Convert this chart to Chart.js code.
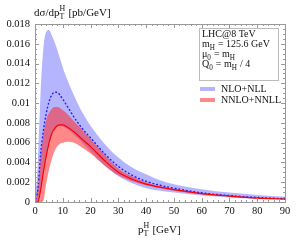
<!DOCTYPE html>
<html>
<head>
<meta charset="utf-8">
<script src="https://cdn.jsdelivr.net/npm/chart.js@4/dist/chart.umd.min.js"></script>
<style>
  html, body { margin: 0; padding: 0; background: #fff; }
  #wrap { width: 303px; height: 245px; }
</style>
</head>
<body>
<div id="wrap"><canvas id="ptChart" width="303" height="245"></canvas></div>
<script>
// pT^H spectrum, LHC 8 TeV - NLO+NLL vs NNLO+NNLL bands

const pt = [0, 1, 2, 3, 4, 5, 6, 7, 8, 9, 10, 12, 14, 16, 18, 20, 25, 30, 35, 40, 45, 50, 60, 70, 80, 90];

const nloUpper = [0, 0.004, 0.011, 0.0155, 0.0172, 0.0174, 0.0169, 0.0162, 0.0154, 0.0145, 0.0136, 0.0121, 0.0108, 0.0096, 0.0086, 0.0077, 0.0059, 0.0045, 0.0035, 0.0028, 0.0022, 0.0018, 0.0013, 0.00095, 0.0007, 0.00052];
const nloLower = [0, 0, 0.0012, 0.003, 0.0046, 0.0059, 0.0068, 0.0073, 0.0076, 0.0077, 0.0076, 0.0073, 0.0068, 0.0063, 0.0057, 0.0051, 0.0037, 0.0026, 0.0019, 0.0014, 0.00115, 0.00095, 0.00066, 0.00046, 0.00033, 0.00024];
const nloCentral = [0, 0.0012, 0.0048, 0.0072, 0.0089, 0.0101, 0.0108, 0.0111, 0.0111, 0.0108, 0.0104, 0.0095, 0.0086, 0.0078, 0.0071, 0.0065, 0.0049, 0.0036, 0.0027, 0.0021, 0.0017, 0.0014, 0.00093, 0.00065, 0.00046, 0.00033];

const nnloUpper = [0, 0.0015, 0.0045, 0.0068, 0.0083, 0.009, 0.0094, 0.0096, 0.0096, 0.0095, 0.0093, 0.0088, 0.0082, 0.0076, 0.007, 0.0064, 0.0048, 0.0034, 0.0026, 0.002, 0.0016, 0.00135, 0.00092, 0.00065, 0.00045, 0.00033];
const nnloLower = [0, 0, 0, 0.0001, 0.0018, 0.0032, 0.0043, 0.0051, 0.0056, 0.0059, 0.006, 0.0061, 0.006, 0.0057, 0.0053, 0.0049, 0.0037, 0.0027, 0.0021, 0.0017, 0.0014, 0.00115, 0.00078, 0.00055, 0.00036, 0.00027];
const nnloCentral = [0, 0, 0.0012, 0.003, 0.0046, 0.0059, 0.0069, 0.0074, 0.0077, 0.0078, 0.0078, 0.0075, 0.0071, 0.0066, 0.0061, 0.0056, 0.0042, 0.003, 0.0023, 0.0018, 0.0015, 0.00125, 0.00085, 0.0006, 0.0004, 0.0003];

const xTicks = [0, 10, 20, 30, 40, 50, 60, 70, 80, 90];
const yTicks = [0, 0.002, 0.004, 0.006, 0.008, 0.01, 0.012, 0.014, 0.016, 0.018];

const BLUE_FILL = 'rgba(120,120,255,0.55)';
const RED_FILL = 'rgba(255,40,40,0.55)';
const SERIF = '"Liberation Serif", "DejaVu Serif", serif';

function pts(ys) {
  return pt.map((x, i) => ({ x: x, y: ys[i] }));
}

// draw text made of pieces with sub/superscripts
function richText(ctx, x, y, parts, size) {
  let cx = x;
  parts.forEach(p => {
    if (p.sub || p.sup) {
      ctx.font = (size * 0.72) + 'px ' + SERIF;
      let w = 0;
      if (p.sup) { ctx.fillText(p.sup, cx, y - size * 0.42); w = ctx.measureText(p.sup).width; }
      if (p.sub) { ctx.fillText(p.sub, cx, y + size * 0.25); w = Math.max(w, ctx.measureText(p.sub).width); }
      cx += w + 0.5;
    } else {
      ctx.font = size + 'px ' + SERIF;
      ctx.fillText(p.t, cx, y);
      cx += ctx.measureText(p.t).width;
    }
  });
}

const framePlugin = {
  id: 'frame',
  afterDraw(chart) {
    const ctx = chart.ctx;
    const a = chart.chartArea;
    const xs = chart.scales.x, ys = chart.scales.y;
    ctx.save();
    ctx.strokeStyle = '#999';
    ctx.lineWidth = 1;
    ctx.strokeRect(Math.round(a.left) + 0.5, Math.round(a.top) + 0.5, Math.round(a.right - a.left), Math.round(a.bottom - a.top));

    ctx.beginPath();
    for (let v = 0; v <= 90.001; v += 2) {
      const px = Math.round(xs.getPixelForValue(v)) + 0.5;
      const len = (Math.round(v) % 10 === 0) ? 4 : 2;
      ctx.moveTo(px, a.bottom); ctx.lineTo(px, a.bottom - len);
      ctx.moveTo(px, a.top); ctx.lineTo(px, a.top + len);
    }
    for (let k = 0; k <= 36; k++) {
      const py = Math.round(ys.getPixelForValue(k * 0.0005)) + 0.5;
      const len = (k % 4 === 0) ? 4 : 2;
      ctx.moveTo(a.left, py); ctx.lineTo(a.left + len, py);
      ctx.moveTo(a.right, py); ctx.lineTo(a.right - len, py);
    }
    ctx.stroke();

    // axis titles
    ctx.fillStyle = '#111';
    ctx.textBaseline = 'alphabetic';
    richText(ctx, 34, 16, [{ t: 'd\u03c3/dp' }, { sup: 'H', sub: 'T' }, { t: ' [pb/GeV]' }], 11);
    richText(ctx, 138, 233, [{ t: 'p' }, { sup: 'H', sub: 'T' }, { t: ' [GeV]' }], 11);

    // info box
    ctx.strokeStyle = '#bbb';
    ctx.strokeRect(199.5, 28.5, 79, 52);
    const fs = 10;
    richText(ctx, 202, 37, [{ t: 'LHC@8 TeV' }], fs);
    richText(ctx, 202, 47, [{ t: 'm' }, { sub: 'H' }, { t: ' = 125.6 GeV' }], fs);
    richText(ctx, 202, 57, [{ t: '\u03bc' }, { sub: '0' }, { t: ' = m' }, { sub: 'H' }], fs);
    richText(ctx, 202, 67, [{ t: 'Q' }, { sub: '0' }, { t: ' = m' }, { sub: 'H' }, { t: ' / 4' }], fs);

    // legend from band datasets
    const entries = chart.data.datasets.filter(d => d.legend);
    entries.forEach((d, i) => {
      const y = 87 + i * 11;
      ctx.fillStyle = '#fff';
      ctx.fillRect(200, y, 15, 4);
      ctx.fillStyle = d.backgroundColor;
      ctx.fillRect(200, y, 15, 4);
      ctx.fillStyle = '#111';
      richText(ctx, 221, y + 5, [{ t: d.label }], fs);
    });
    ctx.restore();
  }
};

function band(label, ys, color, order, fill, legend) {
  return {
    label: label,
    data: pts(ys),
    borderWidth: 0,
    pointRadius: 0,
    backgroundColor: color,
    fill: fill,
    order: order,
    legend: legend,
    cubicInterpolationMode: 'monotone'
  };
}

new Chart(document.getElementById('ptChart'), {
  type: 'line',
  data: {
    datasets: [
      band('NLO+NLL', nloUpper, BLUE_FILL, 6, '+1', true),
      band('nloLower', nloLower, BLUE_FILL, 5, false, false),
      band('NNLO+NNLL', nnloUpper, RED_FILL, 4, '+1', true),
      band('nnloLower', nnloLower, RED_FILL, 3, false, false),
      {
        label: 'NLO+NLL central',
        data: pts(nloCentral),
        borderColor: 'rgb(30,30,255)',
        borderWidth: 1.4,
        borderDash: [0.8, 3],
        borderCapStyle: 'round',
        pointRadius: 0,
        fill: false,
        order: 2,
        cubicInterpolationMode: 'monotone'
      },
      {
        label: 'NNLO+NNLL central',
        data: pts(nnloCentral),
        borderColor: 'rgb(255,0,0)',
        borderWidth: 1.2,
        pointRadius: 0,
        fill: false,
        order: 1,
        cubicInterpolationMode: 'monotone'
      }
    ]
  },
  options: {
    responsive: false,
    animation: false,
    devicePixelRatio: 1,
    layout: { padding: { top: 24, right: 18, left: 0, bottom: 0 } },
    plugins: {
      legend: { display: false },
      tooltip: { enabled: false }
    },
    scales: {
      x: {
        type: 'linear',
        min: 0,
        max: 90,
        afterBuildTicks: s => { s.ticks = xTicks.map(v => ({ value: v })); },
        afterFit: s => { s.height = 43; },
        ticks: { color: '#111', padding: 3, font: { family: SERIF, size: 10.5 } },
        grid: { display: false, drawTicks: false },
        border: { display: false }
      },
      y: {
        min: 0,
        max: 0.018,
        afterBuildTicks: s => { s.ticks = yTicks.map(v => ({ value: v })); },
        afterFit: s => { s.width = 35; },
        ticks: {
          color: '#111',
          padding: 5,
          font: { family: SERIF, size: 10.5 },
          callback: v => String(Number(v.toFixed(4)))
        },
        grid: { display: false, drawTicks: false },
        border: { display: false }
      }
    }
  },
  plugins: [framePlugin]
});
</script>
</body>
</html>
